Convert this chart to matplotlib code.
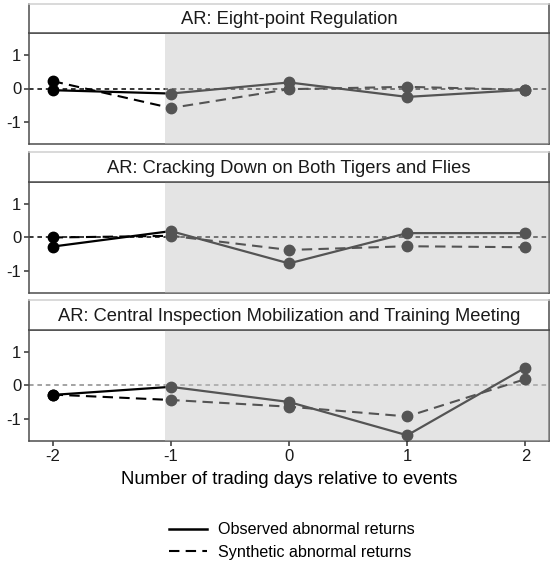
import matplotlib
matplotlib.use("Agg")
import matplotlib.pyplot as plt
from matplotlib.lines import Line2D
from matplotlib.patches import Rectangle

plt.rcParams['font.family'] = ['Liberation Sans', 'DejaVu Sans']

days = [-2, -1, 0, 1, 2]
titles = [
    "AR: Eight-point Regulation",
    "AR: Cracking Down on Both Tigers and Flies",
    "AR: Central Inspection Mobilization and Training Meeting",
]
observed = [
    [-0.05, -0.15, 0.18, -0.25, -0.04],
    [-0.27, 0.19, -0.77, 0.13, 0.13],
    [-0.28, -0.04, -0.49, -1.48, 0.53],
]
synthetic = [
    [0.22, -0.58, -0.02, 0.05, -0.04],
    [0.00, 0.05, -0.37, -0.26, -0.29],
    [-0.27, -0.43, -0.63, -0.92, 0.19],
]
zero_colors = ["black", "black", "#8a8a8a"]

W, H = 550, 569
fig = plt.figure(figsize=(W / 100, H / 100), dpi=100)

left_px, right_px = 29, 549
panels = [(4, 33, 144), (152, 182, 293), (300, 330, 441)]
xlim = (-2.2, 2.2)
ylim = (-1.65, 1.65)
edge = "#4d4d4d"

for i, (st, pt, pb) in enumerate(panels):
    ax = fig.add_axes([left_px / W, 1 - pb / H, (right_px - left_px) / W, (pb - pt) / H])
    ax.set_xlim(*xlim)
    ax.set_ylim(*ylim)
    ax.axhline(0, color=zero_colors[i], lw=1.1, ls=(0, (3, 2.5)), zorder=1)
    ax.plot(days, synthetic[i], color="black", lw=1.5, ls=(0, (5, 3)), marker="o",
            markersize=7.5, zorder=2)
    ax.plot(days, observed[i], color="black", lw=1.6, ls="-", marker="o",
            markersize=7.5, zorder=3)
    ax.add_patch(Rectangle((-1.05, ylim[0]), xlim[1] + 1.05, ylim[1] - ylim[0],
                           facecolor=(195 / 255, 195 / 255, 195 / 255), alpha=0.435,
                           edgecolor="none", zorder=5))
    ax.set_yticks([-1, 0, 1])
    ax.set_yticklabels(["-1", "0", "1"])
    ax.set_xticks(days)
    ax.tick_params(axis="both", direction="out", length=3.5, width=1.1,
                   color="#333333", labelsize=12, labelcolor="#1a1a1a", pad=2)
    if i < 2:
        ax.tick_params(axis="x", bottom=False, labelbottom=False)
    else:
        ax.set_xticklabels([str(d) for d in days])
    for s in ax.spines.values():
        s.set_color(edge)
        s.set_linewidth(1.1)

    # strip
    sax = fig.add_axes([left_px / W, 1 - pt / H, (right_px - left_px) / W, (pt - st) / H])
    sax.set_xticks([])
    sax.set_yticks([])
    for name, s in sax.spines.items():
        s.set_color(edge)
        s.set_linewidth(1.1)
    sax.spines["top"].set_color("#d0d0d0")
    sax.text(0.5, 0.45, titles[i], ha="center", va="center", fontsize=13.2,
             color="#1a1a1a", transform=sax.transAxes)

fig.text(0.5 * (left_px + right_px) / W, 1 - 479 / H,
         "Number of trading days relative to events", ha="center", va="center",
         fontsize=13.3, color="black")

handles = [
    Line2D([0], [0], color="black", lw=1.8, ls="-"),
    Line2D([0], [0], color="black", lw=1.5, ls=(0, (5, 3))),
]
fig.legend(handles, ["Observed abnormal returns", "Synthetic abnormal returns"],
           loc="center", bbox_to_anchor=(292 / W, 1 - 541 / H), frameon=False,
           fontsize=11.6, handlelength=2.3, labelspacing=0.45, handletextpad=0.7)

fig.savefig("out.png", dpi=100)
